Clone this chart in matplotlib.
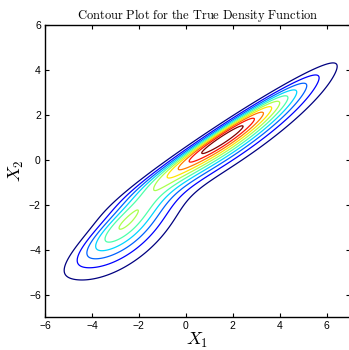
import math
import numpy as np
import matplotlib
matplotlib.use("Agg")
import matplotlib.pyplot as plt

plt.rcParams['mathtext.fontset'] = 'cm'
plt.rcParams['font.family'] = ['Liberation Sans', 'DejaVu Sans']

# mixture of two skewed bivariate normals (parameters)
weights = [0.662, 0.338]
locations = [[1.42, 1.19], [-2.98, -2.62]]
major_sd = [2.69, 1.75]
minor_sd = [0.68, 1.0]
angles_deg = [34.6, 42.0]
skew = [3.0, 3.0]          # skew across the minor axis, towards lower right

x_ticks = [-6, -4, -2, 0, 2, 4, 6]
y_ticks = [-6, -4, -2, 0, 2, 4, 6]

norm_cdf = np.vectorize(lambda t: 0.5 * (1 + math.erf(t / math.sqrt(2))))


def skew_normal_pdf(X, Y, mu, a, b, ang, alpha):
    t = np.deg2rad(ang)
    dx = X - mu[0]
    dy = Y - mu[1]
    u = dx * np.cos(t) + dy * np.sin(t)
    v = dx * np.sin(t) - dy * np.cos(t)
    g = np.exp(-0.5 * (u ** 2 / a ** 2 + v ** 2 / b ** 2)) / (2 * np.pi * a * b)
    return 2 * g * norm_cdf(alpha * v / b)


x = np.linspace(-6, 7, 300)
y = np.linspace(-7, 6, 300)
X, Y = np.meshgrid(x, y)
Z = sum(w * skew_normal_pdf(X, Y, m, a, b, t, al)
        for w, m, a, b, t, al in zip(weights, locations, major_sd, minor_sd,
                                     angles_deg, skew))

# ten evenly spaced levels, top one just under the peak
step = Z.max() / 10.77
levels = step * np.arange(1, 11)

fig = plt.figure(figsize=(3.49, 3.5), dpi=100)
ax = fig.add_axes([45 / 349, 33 / 350, 305 / 349, 292 / 350])
ax.contour(X, Y, Z, levels=levels, cmap='jet', linewidths=0.9)

ax.set_xlim(-6, 7)
ax.set_ylim(-7, 6)
ax.set_xticks(x_ticks)
ax.set_yticks(y_ticks)
ax.tick_params(direction='in', length=3, width=0.8, labelsize=7.5,
               top=True, right=True, pad=3)
for s in ax.spines.values():
    s.set_linewidth(1.0)

ax.set_title(r'$\mathrm{Contour\ Plot\ for\ the\ True\ Density\ Function}$',
             fontsize=9, pad=4)
ax.set_xlabel(r'$X_1$', fontsize=13, labelpad=0)
ax.set_ylabel(r'$X_2$', fontsize=13, labelpad=2)

fig.savefig('out.png', dpi=100)
